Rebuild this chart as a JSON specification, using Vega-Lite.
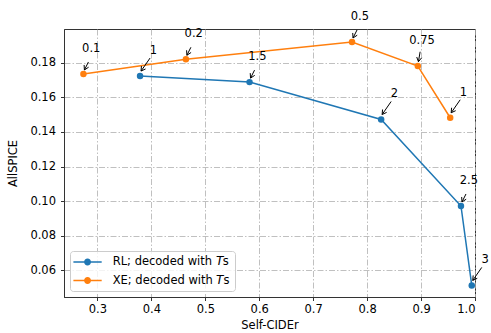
{
  "$schema": "https://vega.github.io/schema/vega-lite/v6.json",
  "width": 411,
  "height": 268,
  "autosize": {"type": "none"},
  "padding": {"left": 64, "top": 29, "right": 16, "bottom": 36},
  "background": "white",
  "config": {
    "font": "DejaVu Sans",
    "view": {"stroke": "#333", "strokeWidth": 1},
    "axis": {
      "labelFontSize": 11.5,
      "titleFontSize": 11.5,
      "titleFontWeight": "normal",
      "labelColor": "black",
      "titleColor": "black",
      "tickColor": "#333",
      "domainColor": "#333",
      "tickSize": 3.5,
      "gridColor": "#b0b0b0",
      "gridDash": [6, 2, 1.5, 2],
      "gridWidth": 0.8
    },
    "legend": {
      "orient": "bottom-left",
      "offset": 6,
      "strokeColor": "#cccccc",
      "fillColor": "rgba(255,255,255,0.8)",
      "cornerRadius": 3,
      "padding": 5,
      "labelFontSize": 11.5,
      "labelColor": "black",
      "rowPadding": 6.5,
      "labelOffset": 25.7
    }
  },
  "data": {
    "values": [
      {"s": "RL", "x": 0.379, "y": 0.1723, "label": "1"},
      {"s": "RL", "x": 0.582, "y": 0.1688, "label": "1.5"},
      {"s": "RL", "x": 0.826, "y": 0.1472, "label": "2"},
      {"s": "RL", "x": 0.974, "y": 0.0972, "label": "2.5"},
      {"s": "RL", "x": 0.994, "y": 0.0513, "label": "3"},
      {"s": "XE", "x": 0.274, "y": 0.1735, "label": "0.1"},
      {"s": "XE", "x": 0.464, "y": 0.182, "label": "0.2"},
      {"s": "XE", "x": 0.772, "y": 0.192, "label": "0.5"},
      {"s": "XE", "x": 0.894, "y": 0.1781, "label": "0.75"},
      {"s": "XE", "x": 0.954, "y": 0.1482, "label": "1"}
    ]
  },
  "encoding": {
    "x": {
      "field": "x", "type": "quantitative",
      "scale": {"domain": [0.238, 1.0], "nice": false, "zero": false},
      "axis": {"title": "Self-CIDEr", "values": [0.3, 0.4, 0.5, 0.6, 0.7, 0.8, 0.9, 1.0], "format": ".1f", "labelPadding": 3, "titlePadding": 4}
    },
    "y": {
      "field": "y", "type": "quantitative",
      "scale": {"domain": [0.0446, 0.1995], "nice": false, "zero": false},
      "axis": {"title": "AllSPICE", "values": [0.06, 0.08, 0.1, 0.12, 0.14, 0.16, 0.18], "format": ".2f", "labelPadding": 5, "titlePadding": 11}
    }
  },
  "resolve": {"legend": {"color": "independent"}},
  "layer": [
    {
      "mark": {"type": "line", "strokeWidth": 1.5},
      "encoding": {
        "color": {"field": "s", "type": "nominal", "scale": {"domain": ["RL", "XE"], "range": ["#1f77b4", "#ff7f0e"]}, "legend": null}
      }
    },
    {
      "mark": {"type": "point", "shape": "circle", "filled": true, "size": 42, "opacity": 1},
      "encoding": {
        "color": {
          "field": "s", "type": "nominal",
          "scale": {"domain": ["RL", "XE"], "range": ["#1f77b4", "#ff7f0e"]},
          "legend": {
            "title": null,
            "labelExpr": "datum.label + '; decoded with 𝘛s'",
            "symbolType": "M-1.52,-0.15H4.14V0.15H-1.52ZM0.61,0A0.7,0.7 0 1,1 2.01,0A0.7,0.7 0 1,1 0.61,0Z",
            "symbolSize": 100,
            "symbolOpacity": 1
          }
        }
      }
    },
    {
      "mark": {"type": "point", "filled": false, "stroke": "black", "strokeWidth": 1, "size": 4, "opacity": 1},
      "encoding": {
        "shape": {
          "field": "label", "type": "nominal", "legend": null,
          "scale": {
            "domain": ["1", "2", "3", "1.5", "2.5", "0.1", "0.2", "0.5", "0.75"],
            "range": [
              "M10,-18L1,-5M5.5,-7.1L1,-5L1.4,-10",
              "M10,-18L1,-5M5.5,-7.1L1,-5L1.4,-10",
              "M10,-18L1,-5M5.5,-7.1L1,-5L1.4,-10",
              "M5,-12L1,-4M5.2,-6.8L1,-4L0.7,-9",
              "M5,-12L1,-4M5.2,-6.8L1,-4L0.7,-9",
              "M5,-12L1,-4M5.2,-6.8L1,-4L0.7,-9",
              "M5,-12L1,-4M5.2,-6.8L1,-4L0.7,-9",
              "M5,-12L1,-4M5.2,-6.8L1,-4L0.7,-9",
              "M2.3,-14.3L0.6,-4.3M3.8,-8.2L0.6,-4.3L-1.1,-9"
            ]
          }
        }
      }
    },
    {
      "mark": {"type": "text", "align": "right", "baseline": "middle", "dx": 17, "dy": -25, "fontSize": 11.5, "color": "black"},
      "encoding": {"text": {"field": "label", "type": "nominal"}}
    }
  ]
}
